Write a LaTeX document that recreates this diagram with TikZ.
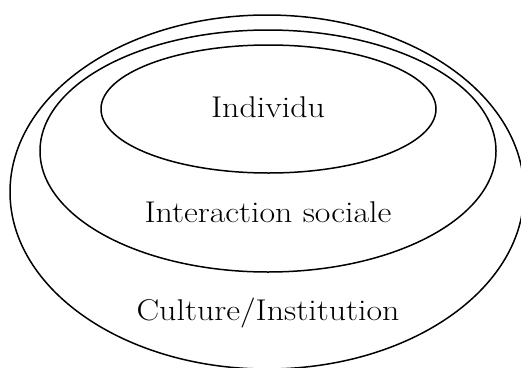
\documentclass[tikz,border=0pt]{standalone}
\usepackage{fontspec}
\setmainfont{Latin Modern Roman}[FakeStretch=1.13]
\begin{document}
\begin{tikzpicture}[x=1pt,y=-1pt,
  ring/.style={draw=black,line width=1.5pt},
  lbl/.style={font=\fontsize{30}{36}\selectfont,inner sep=0pt}]
\useasboundingbox (0,0) rectangle (521,367);
\draw[ring] (267,192) ellipse [x radius=257, y radius=177];
\draw[ring] (268,151) ellipse [x radius=228, y radius=121];
\draw[ring] (268.5,109) ellipse [x radius=167.5, y radius=64];
\node[lbl] (ind) at (268,107) {Individu};
\node[lbl] (inter) at (268,212) {Interaction sociale};
\node[lbl] (cult) at (268,313) {Culture/Institution};
\end{tikzpicture}
\end{document}
